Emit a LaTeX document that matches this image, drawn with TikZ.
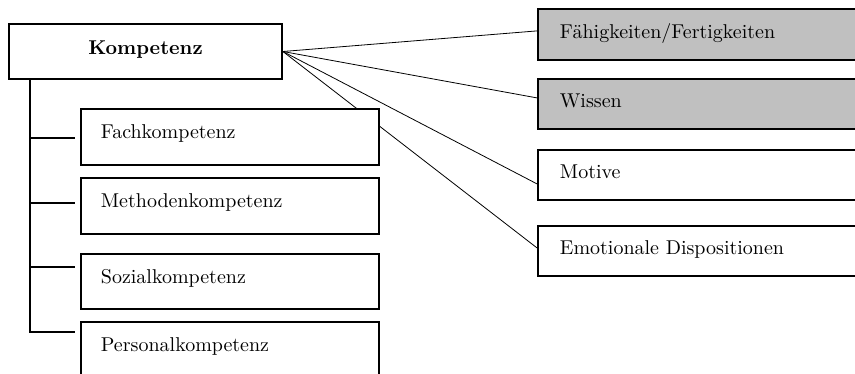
\documentclass[tikz,border=0pt]{standalone}
\usepackage{fontspec}
\usepackage{xcolor}
\usepackage{tikz}
\usetikzlibrary{backgrounds}
\definecolor{boxgray}{RGB}{192,192,192}

\begin{document}
\begin{tikzpicture}[x=0.5pt, y=-0.5pt, line width=0.9pt,
    topbox/.style={rectangle, draw, fill=white, minimum width=136.5pt, minimum height=27.5pt, font=\bfseries, text height=6pt, text depth=3pt},
    subbox/.style={rectangle, draw, fill=white, anchor=north west, text width=129pt, align=left, inner xsep=10pt, minimum height=28pt, text height=6pt, text depth=4pt},
    partbox/.style={rectangle, draw, anchor=north west, text width=143pt, align=left, inner xsep=11pt, minimum height=25pt, text height=6pt, text depth=2pt}]
    \useasboundingbox (0,0) rectangle (855,374);
    \clip (0,0) rectangle (855,374);

    % Main component
    \node[topbox] (komp) at (145.5,51.5) {Kompetenz};

    % Parts of the competence
    \node[partbox, fill=boxgray, minimum height=25.5pt] (faehig) at (537,8) {Fähigkeiten/Fertigkeiten};
    \node[partbox, fill=boxgray] (wissen) at (537,78) {Wissen};
    \node[partbox, fill=white] (motive) at (537,149) {Motive};
    \node[partbox, fill=white] (emotion) at (537,225) {Emotionale Dispositionen};

    % Kinds of competence
    \node[subbox] (fach) at (80,108) {Fachkompetenz};
    \node[subbox] (methode) at (80,177) {Methodenkompetenz};
    \node[subbox, minimum height=27.5pt] (sozial) at (80,253) {Sozialkompetenz};
    \node[subbox] (personal) at (80,321) {Personalkompetenz};

    % Connections (behind the boxes)
    \begin{scope}[on background layer]
        \draw (komp.east) -- ([yshift=1.75pt]faehig.west);
        \draw (komp.east) -- ([yshift=3pt]wissen.west);
        \draw (komp.east) -- ([yshift=-4.5pt]motive.west);
        \draw (komp.east) -- ([yshift=1.5pt]emotion.west);
    \end{scope}

    % Tree on the left
    \coordinate (root) at ([xshift=11pt]komp.south west);
    \coordinate (s1) at (75,138);
    \coordinate (s2) at (75,203);
    \coordinate (s3) at (75,267);
    \coordinate (s4) at (75,332);
    \draw (root) |- (s4);
    \foreach \s in {s1,s2,s3}
        \draw (root |- \s) -- (\s);
\end{tikzpicture}
\end{document}
